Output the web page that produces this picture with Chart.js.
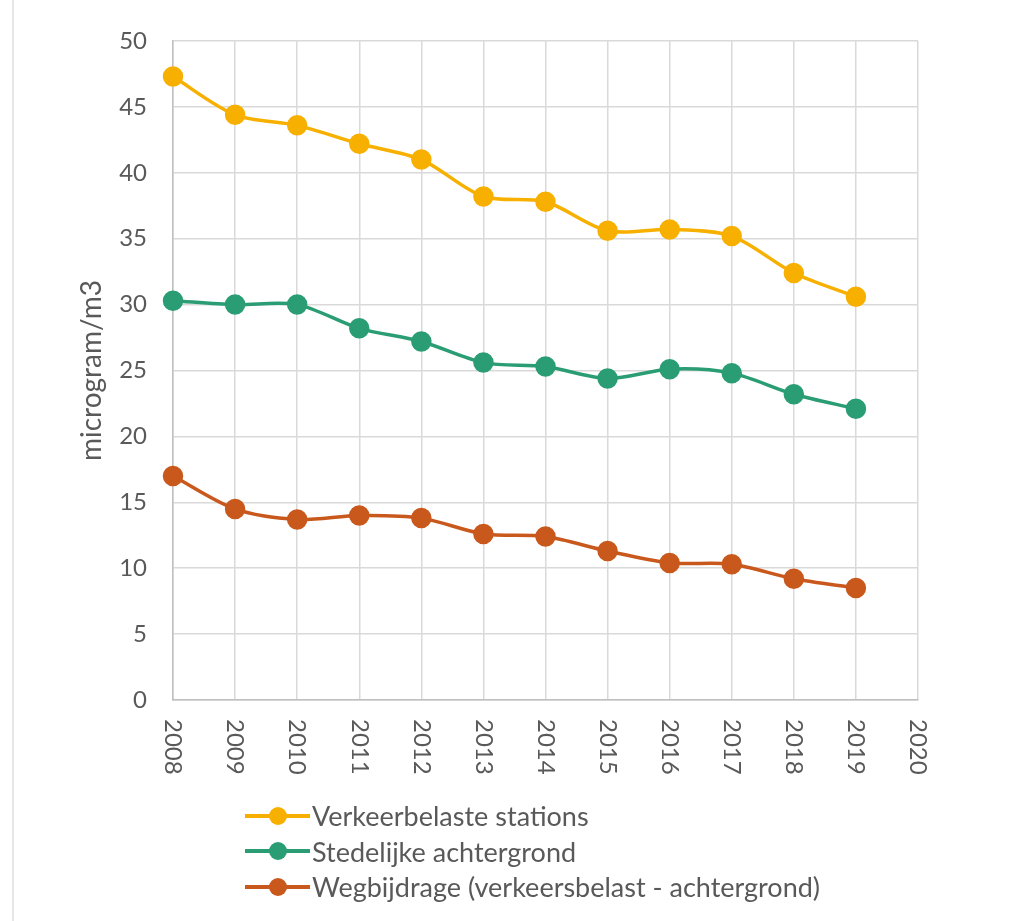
<!DOCTYPE html>
<html>
<head>
<meta charset="utf-8">
<script src="https://cdn.jsdelivr.net/npm/chart.js@4.4.1/dist/chart.umd.min.js"></script>
<style>
  html, body { margin: 0; padding: 0; background: #fff; }
  #wrap { position: relative; width: 1010px; height: 921px; overflow: hidden; }
  #border { position: absolute; left: 12px; top: 0; width: 2px; height: 921px; background: #e6e6e6; }
  #c { position: absolute; left: 0; top: 0; }
  #legend { position: absolute; left: 245px; top: 798px; font-family: Lato, sans-serif; font-size: 27px; color: #595959; }
  .item { display: flex; align-items: center; height: 35.5px; }
  .swatch { position: relative; width: 65px; height: 20px; margin-right: 2px; }
  .swatch .ln { position: absolute; left: 0; right: 0; top: 8px; height: 4px; }
  .swatch .dot { position: absolute; left: 24px; top: 1px; width: 18px; height: 18px; border-radius: 50%; }
</style>
</head>
<body>
<div id="wrap">
  <div id="border"></div>
  <canvas id="c" width="1010" height="921"></canvas>
  <div id="legend"></div>
</div>
<script>
const years = ['2008','2009','2010','2011','2012','2013','2014','2015','2016','2017','2018','2019','2020'];
const verkeerbelaste = [47.3, 44.4, 43.6, 42.2, 41.0, 38.2, 37.8, 35.6, 35.7, 35.2, 32.4, 30.6];
const stedelijke = [30.3, 30.0, 30.0, 28.2, 27.2, 25.6, 25.3, 24.4, 25.1, 24.8, 23.2, 22.1];
const wegbijdrage = [17.0, 14.5, 13.7, 14.0, 13.8, 12.6, 12.4, 11.3, 10.4, 10.3, 9.2, 8.5];
const seriesNames = ['Verkeerbelaste stations', 'Stedelijke achtergrond', 'Wegbijdrage (verkeersbelast - achtergrond)'];
const seriesColors = ['#F7B000', '#2A9D74', '#C9581C'];
const yTitle = 'microgram/m3';

const FONT = 'Lato, sans-serif';
const TXT = '#595959';

const xLabelPlugin = {
  id: 'xLabels',
  afterDraw(chart) {
    const sc = chart.scales.x;
    const ctx = chart.ctx;
    ctx.save();
    ctx.font = '24px ' + FONT;
    ctx.fillStyle = TXT;
    ctx.textAlign = 'left';
    ctx.textBaseline = 'middle';
    years.forEach((lab, i) => {
      const x = sc.getPixelForTick(i);
      ctx.save();
      ctx.translate(x, chart.chartArea.bottom + 19);
      ctx.rotate(Math.PI / 2);
      ctx.fillText(lab, 0, 0);
      ctx.restore();
    });
    ctx.restore();
  }
};

const datasets = [verkeerbelaste, stedelijke, wegbijdrage].map((d, i) => ({
  label: seriesNames[i],
  data: d,
  borderColor: seriesColors[i],
  backgroundColor: seriesColors[i],
  pointBackgroundColor: seriesColors[i],
  pointBorderColor: seriesColors[i],
  borderWidth: 3.5,
  pointRadius: 8.5,
  pointHoverRadius: 8.5,
  tension: 0.3,
  fill: false
}));

new Chart(document.getElementById('c'), {
  type: 'line',
  data: { labels: years, datasets },
  plugins: [xLabelPlugin],
  options: {
    responsive: false,
    animation: false,
    devicePixelRatio: 1,
    layout: { padding: { left: 71, top: 41, right: 92, bottom: 0 } },
    plugins: { legend: { display: false }, tooltip: { enabled: false } },
    scales: {
      x: {
        type: 'category',
        offset: false,
        grid: { color: '#d9d9d9', lineWidth: 1.5, drawTicks: false },
        border: { color: '#bfbfbf', width: 1.5 },
        ticks: { display: false },
        afterFit(scale) { scale.height = 221; }
      },
      y: {
        min: 0, max: 50,
        ticks: { stepSize: 5, font: { family: FONT, size: 24 }, color: TXT, padding: 26 },
        grid: { color: '#d9d9d9', lineWidth: 1.5, drawTicks: false },
        border: { color: '#bfbfbf', width: 1.5 },
        title: { display: true, text: yTitle, font: { family: FONT, size: 28 }, color: TXT, padding: { top: 4, bottom: 4 } },
        afterFit(scale) { scale.width = 102; }
      }
    }
  }
});

const legend = document.getElementById('legend');
seriesNames.forEach((n, i) => {
  const it = document.createElement('div');
  it.className = 'item';
  it.innerHTML = '<div class="swatch"><div class="ln" style="background:' + seriesColors[i] + '"></div><div class="dot" style="background:' + seriesColors[i] + '"></div></div><span></span>';
  it.querySelector('span').textContent = n;
  legend.appendChild(it);
});
</script>
</body>
</html>
